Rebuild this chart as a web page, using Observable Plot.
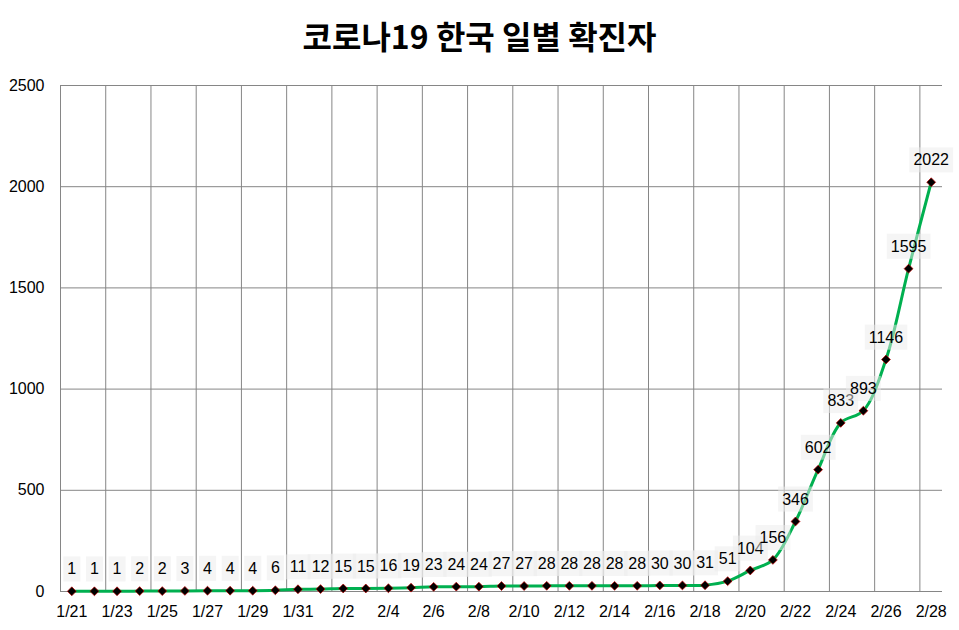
<!DOCTYPE html>
<html>
<head>
<meta charset="utf-8">
<script src="https://cdn.jsdelivr.net/npm/d3@7"></script>
<script src="https://cdn.jsdelivr.net/npm/@observablehq/plot@0.6"></script>
<style>
  html, body { margin: 0; padding: 0; background: #fff; }
  #chart { width: 959px; height: 630px; }
</style>
</head>
<body>
<div id="chart"></div>
<script>
const title = "코로나19 한국 일별 확진자";
const dates = ["1/21","1/22","1/23","1/24","1/25","1/26","1/27","1/28","1/29","1/30","1/31",
  "2/1","2/2","2/3","2/4","2/5","2/6","2/7","2/8","2/9","2/10","2/11","2/12","2/13","2/14",
  "2/15","2/16","2/17","2/18","2/19","2/20","2/21","2/22","2/23","2/24","2/25","2/26","2/27","2/28"];
const cases = [1,1,1,2,2,3,4,4,4,6,11,12,15,15,16,19,23,24,24,27,27,28,28,28,28,28,30,30,31,51,104,156,346,602,833,893,1146,1595,2022];
const yTicks = [0, 500, 1000, 1500, 2000, 2500];

const idx = dates.map((d, i) => i);
const xTickIdx = idx.filter(i => i % 2 === 0);
const gridX = xTickIdx.map(i => i - 0.5);
const rows = cases.map((v, i) => ({i, date: dates[i], v}));

const font = "'Liberation Sans', Arial, sans-serif";

const chart = Plot.plot({
  width: 959,
  height: 630,
  marginLeft: 60,
  marginRight: 17,
  marginTop: 85,
  marginBottom: 39,
  style: {fontFamily: font, fontSize: "16px", color: "#000", background: "#fff"},
  x: {type: "linear", domain: [-0.5, dates.length - 0.5]},
  y: {domain: [0, 2500]},
  marks: [
    Plot.ruleX(gridX, {x: d => d, stroke: "#868686", strokeWidth: 1}),
    Plot.ruleY(yTicks, {y: d => d, stroke: "#868686", strokeWidth: 1}),
    Plot.axisY(yTicks, {tickSize: 0, tickPadding: 16, fontSize: 16, fill: "#000", tickFormat: d => String(d), label: null}),
    Plot.axisX(xTickIdx, {tickSize: 0, tickPadding: 14, fontSize: 16, fill: "#000", tickFormat: i => dates[i], label: null}),
    Plot.line(rows, {x: "i", y: "v", stroke: "#00b050", strokeWidth: 3, curve: "catmull-rom"}),
    Plot.dot(rows, {x: "i", y: "v", symbol: "diamond2", r: 4, fill: "#000", stroke: "#c00000", strokeWidth: 0.7}),
    Plot.text(rows, {x: "i", y: "v", text: d => String(d.v), dy: -22, fontSize: 16, fill: "#000", ariaDescription: "dlabels"}),
    Plot.text([title], {frameAnchor: "top", dx: -22, dy: -59, fontSize: 32, fontWeight: "bold", fill: "#000", fontFamily: "'Noto Sans CJK KR', sans-serif"})
  ]
});

document.getElementById("chart").appendChild(chart);

// background boxes behind data labels
const g = chart.querySelector('g[aria-description="dlabels"]');
if (g) {
  const ns = "http://www.w3.org/2000/svg";
  g.querySelectorAll("text").forEach(t => {
    const b = t.getBBox();
    const r = document.createElementNS(ns, "rect");
    r.setAttribute("x", b.x - 4);
    r.setAttribute("y", b.y - 4);
    r.setAttribute("width", b.width + 8);
    r.setAttribute("height", b.height + 8);
    r.setAttribute("fill", "rgb(235,235,235)");
    r.setAttribute("fill-opacity", "0.5");
    r.setAttribute("stroke", "none");
    const tr = t.getAttribute("transform");
    if (tr) r.setAttribute("transform", tr);
    g.insertBefore(r, t);
  });
}
</script>
</body>
</html>
